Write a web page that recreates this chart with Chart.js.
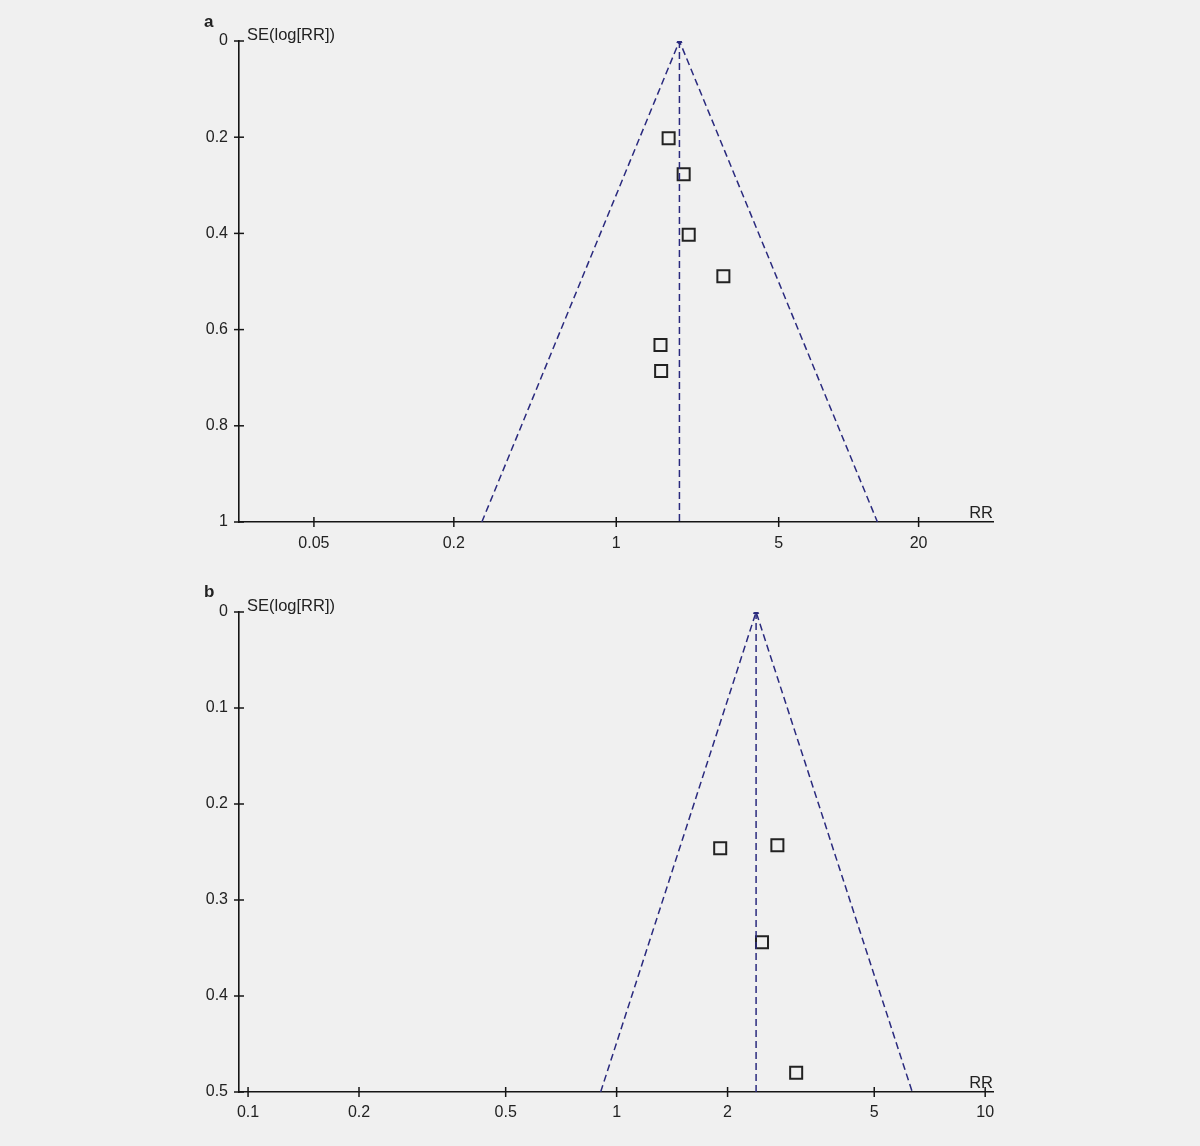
<!DOCTYPE html>
<html><head><meta charset="utf-8">
<script src="https://cdn.jsdelivr.net/npm/chart.js@4.4.0/dist/chart.umd.min.js"></script>
<style>
html,body{margin:0;padding:0;background:#f0f0f0;width:1200px;height:1146px;overflow:hidden;}
canvas{position:absolute;left:0;}
#ca{top:0}
#cb{top:570px}
</style></head><body>
<canvas id="ca" width="1200" height="570"></canvas>
<canvas id="cb" width="1200" height="576"></canvas>
<script>
// ---------- Panel a ----------
const aStudyRR = [1.68, 1.95, 2.05, 2.89, 1.55, 1.56];
const aStudySE = [0.202, 0.277, 0.403, 0.489, 0.632, 0.686];
const aPooledRR = 1.87;
const aFunnelLow = 0.264;
const aFunnelHigh = 13.3;
const aXTicks = [0.05, 0.2, 1, 5, 20];
const aXLabels = ['0.05', '0.2', '1', '5', '20'];
const aYTicks = [0, 0.2, 0.4, 0.6, 0.8, 1];
const aYLabels = ['0', '0.2', '0.4', '0.6', '0.8', '1'];
const aXRange = [0.0238, 41.8];
const aYRange = [0, 1];

// ---------- Panel b ----------
const bStudyRR = [1.91, 2.73, 2.48, 3.07];
const bStudySE = [0.246, 0.243, 0.344, 0.480];
const bPooledRR = 2.39;
const bFunnelLow = 0.905;
const bFunnelHigh = 6.34;
const bXTicks = [0.1, 0.2, 0.5, 1, 2, 5, 10];
const bXLabels = ['0.1', '0.2', '0.5', '1', '2', '5', '10'];
const bYTicks = [0, 0.1, 0.2, 0.3, 0.4, 0.5];
const bYLabels = ['0', '0.1', '0.2', '0.3', '0.4', '0.5'];
const bXRange = [0.0945, 10.5];
const bYRange = [0, 0.5];

const NAVY = '#2a2a7e';
const AXIS = '#151515';
const TEXT = '#222222';
const FONT = '"Liberation Sans", Arial, sans-serif';

const deco = {
  id: 'deco',
  afterDraw(chart, args, opts) {
    const {ctx, chartArea: ca, scales: {x, y}} = chart;
    ctx.save();
    ctx.strokeStyle = AXIS; ctx.lineWidth = 1.5;
    x.ticks.forEach(t => {
      const px = x.getPixelForValue(t.value);
      ctx.beginPath(); ctx.moveTo(px, ca.bottom - 5); ctx.lineTo(px, ca.bottom + 5); ctx.stroke();
    });
    y.ticks.forEach(t => {
      const py = y.getPixelForValue(t.value);
      ctx.beginPath(); ctx.moveTo(ca.left - 5, py); ctx.lineTo(ca.left + 5, py); ctx.stroke();
    });
    ctx.fillStyle = TEXT;
    ctx.font = '16.5px ' + FONT;
    ctx.textAlign = 'left'; ctx.textBaseline = 'middle';
    ctx.fillText('SE(log[RR])', ca.left + 8, y.getPixelForValue(0) - 6);
    ctx.textAlign = 'right'; ctx.textBaseline = 'alphabetic';
    ctx.fillText('RR', ca.right, ca.bottom - 4);
    ctx.font = 'bold 17px ' + FONT;
    ctx.textAlign = 'left'; ctx.textBaseline = 'middle';
    ctx.fillText(opts.letter, 204, opts.letterY);
    ctx.restore();
  }
};

function makeChart(id, cfg) {
  const points = cfg.rr.map((v, i) => ({x: v, y: cfg.se[i]}));
  const yMax = cfg.yRange[1];
  return new Chart(document.getElementById(id), {
    type: 'scatter',
    data: {
      datasets: [
        {
          data: [{x: cfg.low, y: yMax}, {x: cfg.pooled, y: 0}, {x: cfg.high, y: yMax}],
          showLine: true, borderColor: NAVY, borderWidth: 1.5, borderDash: [7, 4],
          pointRadius: 0, fill: false, tension: 0
        },
        {
          data: [{x: cfg.pooled, y: 0}, {x: cfg.pooled, y: yMax}],
          showLine: true, borderColor: NAVY, borderWidth: 1.5, borderDash: [7, 4],
          pointRadius: 0, fill: false
        },
        {
          data: [{x: cfg.pooled, y: 0}],
          pointStyle: 'triangle', pointRadius: 3, backgroundColor: NAVY, borderColor: NAVY, borderWidth: 1
        },
        {
          data: points,
          pointStyle: 'rect', pointRadius: 8.5, backgroundColor: 'rgba(0,0,0,0)',
          borderColor: '#222', borderWidth: 2
        }
      ]
    },
    options: {
      responsive: false, animation: false, devicePixelRatio: 1, events: [],
      layout: {padding: {left: 0, right: 207, top: cfg.top, bottom: 0}},
      plugins: {legend: {display: false}, tooltip: {enabled: false}, deco: {letter: cfg.letter, letterY: cfg.letterY}},
      scales: {
        x: {
          type: 'logarithmic', position: 'bottom', min: cfg.xRange[0], max: cfg.xRange[1], bounds: 'data',
          grid: {display: false, drawTicks: false},
          border: {display: true, color: AXIS, width: 1.6},
          afterBuildTicks: s => { s.ticks = cfg.xTicks.map(v => ({value: v})); },
          afterFit: s => { s.height = cfg.xh; },
          ticks: {autoSkip: false, maxRotation: 0, padding: cfg.xpad, color: TEXT, font: {family: FONT, size: 16},
                  callback: (v, i) => cfg.xLabels[i]}
        },
        y: {
          type: 'linear', reverse: true, min: cfg.yRange[0], max: cfg.yRange[1],
          grid: {display: false, drawTicks: false},
          border: {display: true, color: AXIS, width: 1.6},
          afterBuildTicks: s => { s.ticks = cfg.yTicks.map(v => ({value: v})); },
          afterFit: s => { s.width = 239; },
          ticks: {autoSkip: false, padding: 11, color: TEXT, font: {family: FONT, size: 16},
                  callback: (v, i) => cfg.yLabels[i]}
        }
      }
    },
    plugins: [deco]
  });
}

makeChart('ca', {rr: aStudyRR, se: aStudySE, pooled: aPooledRR, low: aFunnelLow, high: aFunnelHigh,
  xTicks: aXTicks, xLabels: aXLabels, yTicks: aYTicks, yLabels: aYLabels, xRange: aXRange, yRange: aYRange,
  top: 41, xh: 48, xpad: 12, letter: 'a', letterY: 22});
makeChart('cb', {rr: bStudyRR, se: bStudySE, pooled: bPooledRR, low: bFunnelLow, high: bFunnelHigh,
  xTicks: bXTicks, xLabels: bXLabels, yTicks: bYTicks, yLabels: bYLabels, xRange: bXRange, yRange: bYRange,
  top: 42, xh: 54, xpad: 11, letter: 'b', letterY: 22});
</script>
</body></html>
